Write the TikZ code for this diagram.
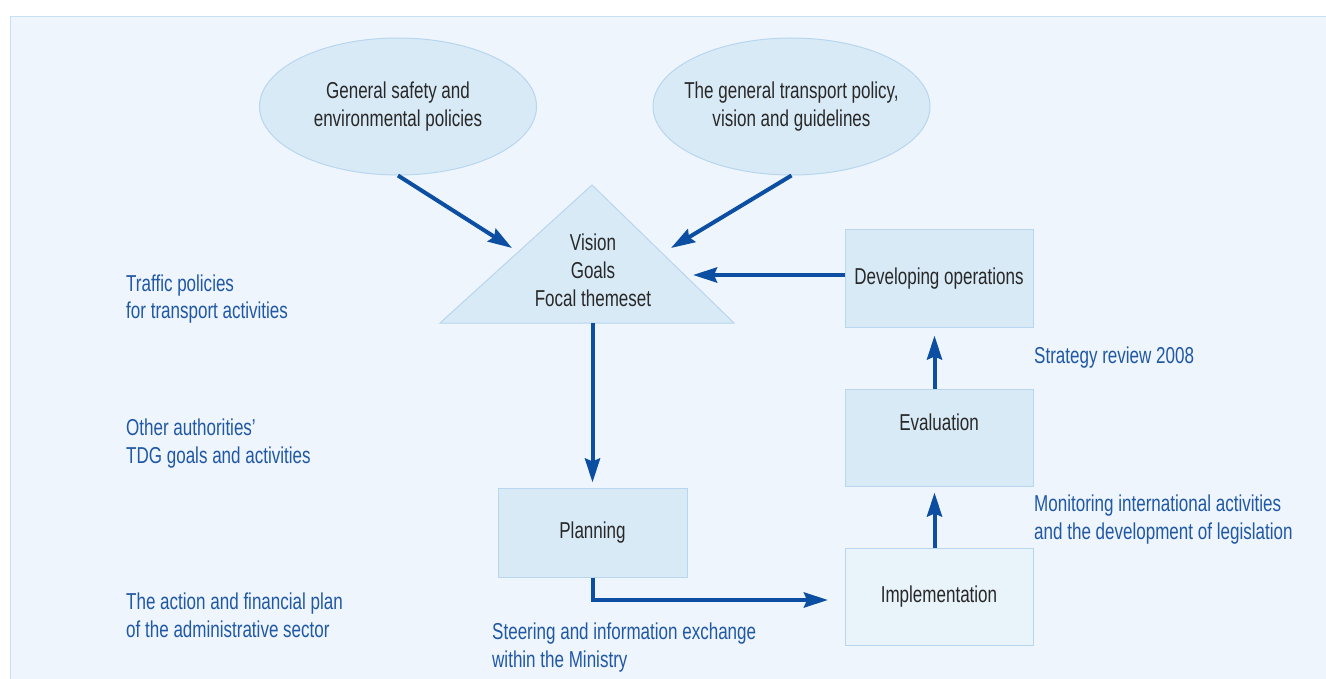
\documentclass[tikz,border=0pt]{standalone}
\usepackage{fontspec}
\setmainfont{Liberation Sans}[FakeStretch=0.74]
\usetikzlibrary{arrows.meta,shapes.geometric}

\definecolor{panelfill}{RGB}{238,245,252}
\definecolor{panelline}{RGB}{200,224,244}
\definecolor{shapefill}{RGB}{217,234,247}
\definecolor{shapeline}{RGB}{184,214,240}
\definecolor{lightfill}{RGB}{232,243,250}
\definecolor{flowblue}{RGB}{12,78,162}
\definecolor{noteblue}{RGB}{32,88,166}
\definecolor{textdark}{RGB}{40,40,40}

\newcommand\dgfont{\fontsize{23}{28}\selectfont}

\begin{document}
\begin{tikzpicture}[x=1pt,y=-1pt,
  bubble/.style={ellipse, draw=shapeline, fill=shapefill, line width=1pt,
    minimum width=277, minimum height=137, inner ysep=0, inner xsep=-40pt,
    align=center, font=\dgfont, text=textdark},
  stepbox/.style={draw=shapeline, fill=shapefill, line width=1pt, inner sep=0,
    minimum width=188, font=\dgfont, text=textdark, anchor=base},
  note/.style={font=\dgfont, text=noteblue, align=left, inner sep=0, anchor=base west},
  flow/.style={draw=flowblue, line width=4pt,
    -{Stealth[length=24pt,width=15pt,inset=3pt]}},
  tri/.style={draw=shapeline, fill=shapefill, line width=1pt}]

\useasboundingbox (0,0) rectangle (1326,679);
\fill[white] (0,0) rectangle (1326,679);

% background panel
\fill[panelfill] (10.5,16.5) rectangle (1326,679);
\draw[panelline, line width=1.2pt] (10.5,679) -- (10.5,16.5) -- (1326,16.5);

% policy sources
\node[bubble] (safety) at (398,106.5) {General safety and\\environmental policies};
\node[bubble] (transport) at (791.5,106.5) {The general transport policy,\\vision and guidelines};

% vision triangle
\coordinate (apex) at (592,185);
\coordinate (tright) at (734,323);
\coordinate (tleft) at (440,323);
\coordinate (tbase) at (592.5,323);
\draw[tri] (apex) -- (tright) -- (tleft) -- cycle;
\node[font=\dgfont, text=textdark, align=center, inner sep=0] (vision) at (593,270)
  {Vision\\Goals\\Focal themeset};

% process boxes
\node[stepbox, text height=55pt, text depth=42pt] (develop) at (939,285) {Developing operations};
\node[stepbox, text height=41pt, text depth=56pt] (evaluation) at (939,430) {Evaluation};
\node[stepbox, fill=lightfill, text height=54pt, text depth=43pt] (implement) at (939,602) {Implementation};
\node[stepbox, minimum width=189, text height=50pt, text depth=39pt] (planning) at (592.5,538) {Planning};

% side notes (anchored at the baseline of their last line)
\node[note] (traffic) at (126,319) {Traffic policies\\for transport activities};
\node[note] (others) at (126,463) {Other authorities’\\TDG goals and activities};
\node[note] (action) at (126,637) {The action and financial plan\\of the administrative sector};
\node[note] (steering) at (492,667) {Steering and information exchange\\within the Ministry};
\node[note] (review) at (1034,363) {Strategy review 2008};
\node[note] (monitor) at (1034,539) {Monitoring international activities\\and the development of legislation};

% connector ends
\coordinate (inleft) at (512,248);
\coordinate (inright) at (671,248);
\coordinate (inside) at (693,275);
\coordinate (toimpl) at (828,600);

% flows
\draw[flow] (safety.south) -- (inleft);
\draw[flow] (transport.south) -- (inright);
\draw[flow] (develop.west |- inside) -- (inside);
\draw[flow] (tbase) -- ([yshift=5pt]planning.north);
\draw[flow, -] (planning.south) |- ([xshift=-10pt]toimpl);
\draw[flow] ([xshift=-12pt]toimpl) -- (toimpl);
\draw[flow] ([xshift=-4.5pt]implement.north) -- ([xshift=-4.5pt,yshift=-6pt]evaluation.south);
\draw[flow] ([xshift=-4.5pt]evaluation.north) -- ([xshift=-4.5pt,yshift=-8pt]develop.south);
\end{tikzpicture}
\end{document}
